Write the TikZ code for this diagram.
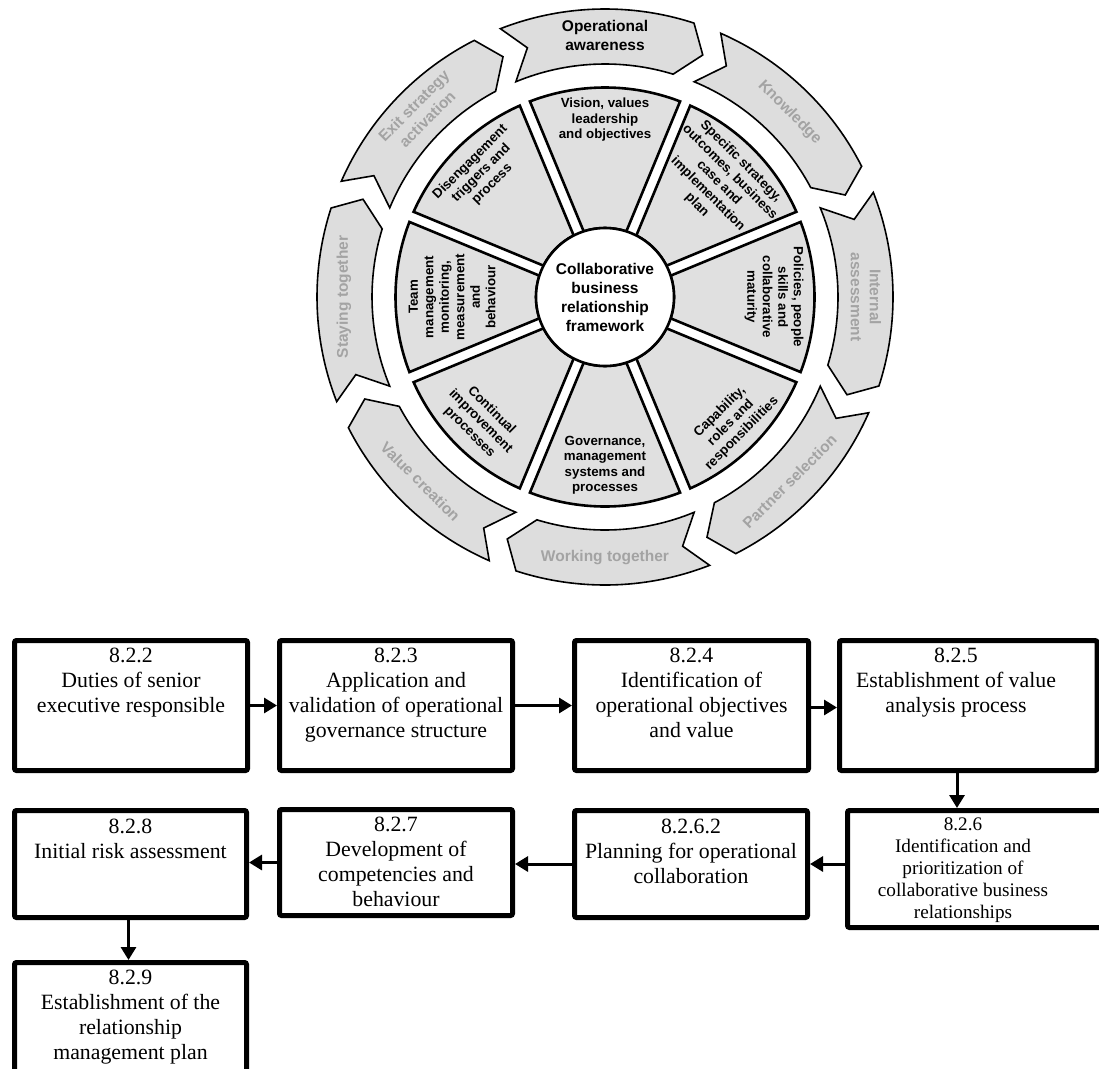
\documentclass[tikz,border=0pt]{standalone}
\usepackage{fontspec}
\setmainfont{Liberation Serif}
\newfontfamily\wheelsans{Liberation Sans}
\usetikzlibrary{arrows.meta}
\definecolor{segfill}{HTML}{E0E0E0}
\definecolor{ringfill}{HTML}{DDDDDD}
\definecolor{ringtext}{HTML}{A3A3A3}
\tikzset{
  segment/.style={fill=segfill, draw=black, line width=2.6pt, line join=miter},
  ringarrow/.style={fill=ringfill, draw=black, line width=1.6pt, line join=miter},
  seglabel/.style={font=\wheelsans\bfseries\fontsize{13.3}{15.5}\selectfont, align=center, inner sep=0},
  ringlabel/.style={font=\wheelsans\bfseries\fontsize{15.5}{19}\selectfont, align=center, text=ringtext, inner sep=0},
  hub/.style={circle, draw=black, fill=white, line width=2.6pt, minimum size=138pt, inner sep=0,
    font=\wheelsans\bfseries\fontsize{15.5}{19}\selectfont, align=center},
  stepbox/.style={draw=black, line width=5pt, rounded corners=2pt, fill=white},
  boxtext/.style={font=\fontsize{21.8}{25}\selectfont, align=center, anchor=north, inner sep=0},
  smallboxtext/.style={font=\fontsize{19.2}{22}\selectfont, align=center, anchor=north, inner sep=0},
  flow/.style={line width=3pt, -{Triangle[length=13pt,width=15pt]}},
}
\begin{document}
\begin{tikzpicture}[x=1pt,y=1pt]
\useasboundingbox (0,0) rectangle (1099,-1068);
\clip (0,0) rectangle (1099,-1068);

% ---------------- wheel ----------------
\begin{scope}[shift={(605,-297)}]
  % outer ring of chevron arrows, running clockwise
  \foreach \c in {90,45,0,-45,-90,-135,180,135}{
    \path[ringarrow] ({\c+21.3}:288) arc[start angle={\c+21.3}, end angle={\c-18}, radius=288]
      -- ({\c-22}:261) -- ({\c-17}:233)
      arc[start angle={\c-17}, end angle={\c+22.5}, radius=233]
      -- ({\c+17.3}:261) -- cycle;
  }
  % eight segments separated by straight white bands
  \foreach \c in {90,45,0,-45,-90,-135,180,135}{
    \path[segment] ({\c-18}:69) -- ({\c-21}:209.5)
      arc[start angle={\c-21}, end angle={\c+21}, radius=209.5]
      -- ({\c+18}:69)
      arc[start angle={\c+18}, end angle={\c-18}, radius=69] -- cycle;
  }
  \node[hub] (hub) at (0,0) {Collaborative\\business\\relationship\\framework};

  % segment texts
  \node[seglabel] (sVision) at (90:177) {Vision, values\\leadership\\and objectives};
  \node[seglabel, rotate=-45] (sStrategy) at (45:161) {Specific strategy,\\outcomes, business\\case and\\implementation\\plan};
  \node[seglabel, rotate=-90] (sPolicies) at (0:169) {Policies, people\\skills and\\collaborative\\maturity};
  \node[seglabel, rotate=45] (sCapability) at (-45:178) {Capability,\\roles and\\responsibilities};
  \node[seglabel] (sGovernance) at (-90:168) {Governance,\\management\\systems and\\processes};
  \node[seglabel, rotate=-45] (sContinual) at (-135:176) {Continual\\improvement\\processes};
  \node[seglabel, rotate=90] (sTeam) at (180:153) {Team\\management\\monitoring,\\measurement\\and\\behaviour};
  \node[seglabel, rotate=45] (sDisengage) at (135:175) {Disengagement\\triggers and\\process};

  % ring texts
  \node[ringlabel, text=black] (rAwareness) at (90:262) {Operational\\awareness};
  \node[ringlabel, rotate=-45] (rKnowledge) at (45:261) {Knowledge};
  \node[ringlabel, rotate=-90] (rInternal) at (0:261) {Internal\\assessment};
  \node[ringlabel, rotate=45] (rPartner) at (-45:261) {Partner selection};
  \node[ringlabel] (rWorking) at (-90:261) {Working together};
  \node[ringlabel, rotate=-45] (rValue) at (-135:261) {Value creation};
  \node[ringlabel, rotate=90] (rStaying) at (180:261) {Staying together};
  \node[ringlabel, rotate=45] (rExit) at (135:261) {Exit strategy\\activation};
\end{scope}

% ---------------- process boxes ----------------
\node[stepbox, minimum width=233pt, minimum height=130pt] (b822) at (131,-705.5) {};
\node[stepbox, minimum width=233pt, minimum height=130pt] (b823) at (396,-705.5) {};
\node[stepbox, minimum width=234pt, minimum height=130pt] (b824) at (691.5,-705.5) {};
\node[stepbox, minimum width=257.5pt, minimum height=130pt] (b825) at (968.25,-705.5) {};

\node[stepbox, minimum width=232pt, minimum height=107pt] (b828) at (130.5,-864) {};
\node[stepbox, minimum width=233pt, minimum height=106pt] (b827) at (396,-862.5) {};
\node[stepbox, minimum width=233pt, minimum height=107pt] (b8262) at (691,-864) {};
\node[stepbox, minimum width=262.5pt, minimum height=117pt] (b826) at (978.75,-869) {};

\node[stepbox, minimum width=232pt, minimum height=117.5pt] (b829) at (130.5,-1021.25) {};

\node[boxtext] (t822) at ([yshift=-10pt]b822.north) {8.2.2\\Duties of senior\\executive responsible};
\node[boxtext] (t823) at ([yshift=-10pt]b823.north) {8.2.3\\Application and\\validation of operational\\governance structure};
\node[boxtext] (t824) at ([yshift=-10pt]b824.north) {8.2.4\\Identification of\\operational objectives\\and value};
\node[boxtext] (t825) at ([xshift=119pt,yshift=-10pt]b825.north west) {8.2.5\\Establishment of value\\analysis process};
\node[smallboxtext] (t826) at ([xshift=118pt,yshift=-10pt]b826.north west) {8.2.6\\Identification and\\prioritization of\\collaborative business\\relationships};
\node[boxtext] (t8262) at ([yshift=-11pt]b8262.north) {8.2.6.2\\Planning for operational\\collaboration};
\node[boxtext] (t827) at ([yshift=-10pt]b827.north) {8.2.7\\Development of\\competencies and\\behaviour};
\node[boxtext] (t828) at ([yshift=-11pt]b828.north) {8.2.8\\Initial risk assessment};
\node[boxtext] (t829) at ([yshift=-10pt]b829.north) {8.2.9\\Establishment of the\\relationship\\management plan};

% ---------------- connectors ----------------
\draw[flow] (b822.east) -- (b823.west);
\draw[flow] (b823.east) -- (b824.west);
\draw[flow] ([yshift=-2pt]b824.east) -- ([yshift=-2pt]b824.east -| b825.west);
\draw[flow] ([xshift=120pt]b825.south west) -- ([xshift=120pt]b825.south west |- b826.north);
\draw[flow] (b826.west |- b8262.east) -- (b8262.east);
\draw[flow] (b8262.west) -- (b8262.west -| b827.east);
\draw[flow] (b827.west) -- (b827.west -| b828.east);
\draw[flow] ([xshift=-2pt]b828.south) -- ([xshift=-2pt]b829.north);
\end{tikzpicture}
\end{document}
